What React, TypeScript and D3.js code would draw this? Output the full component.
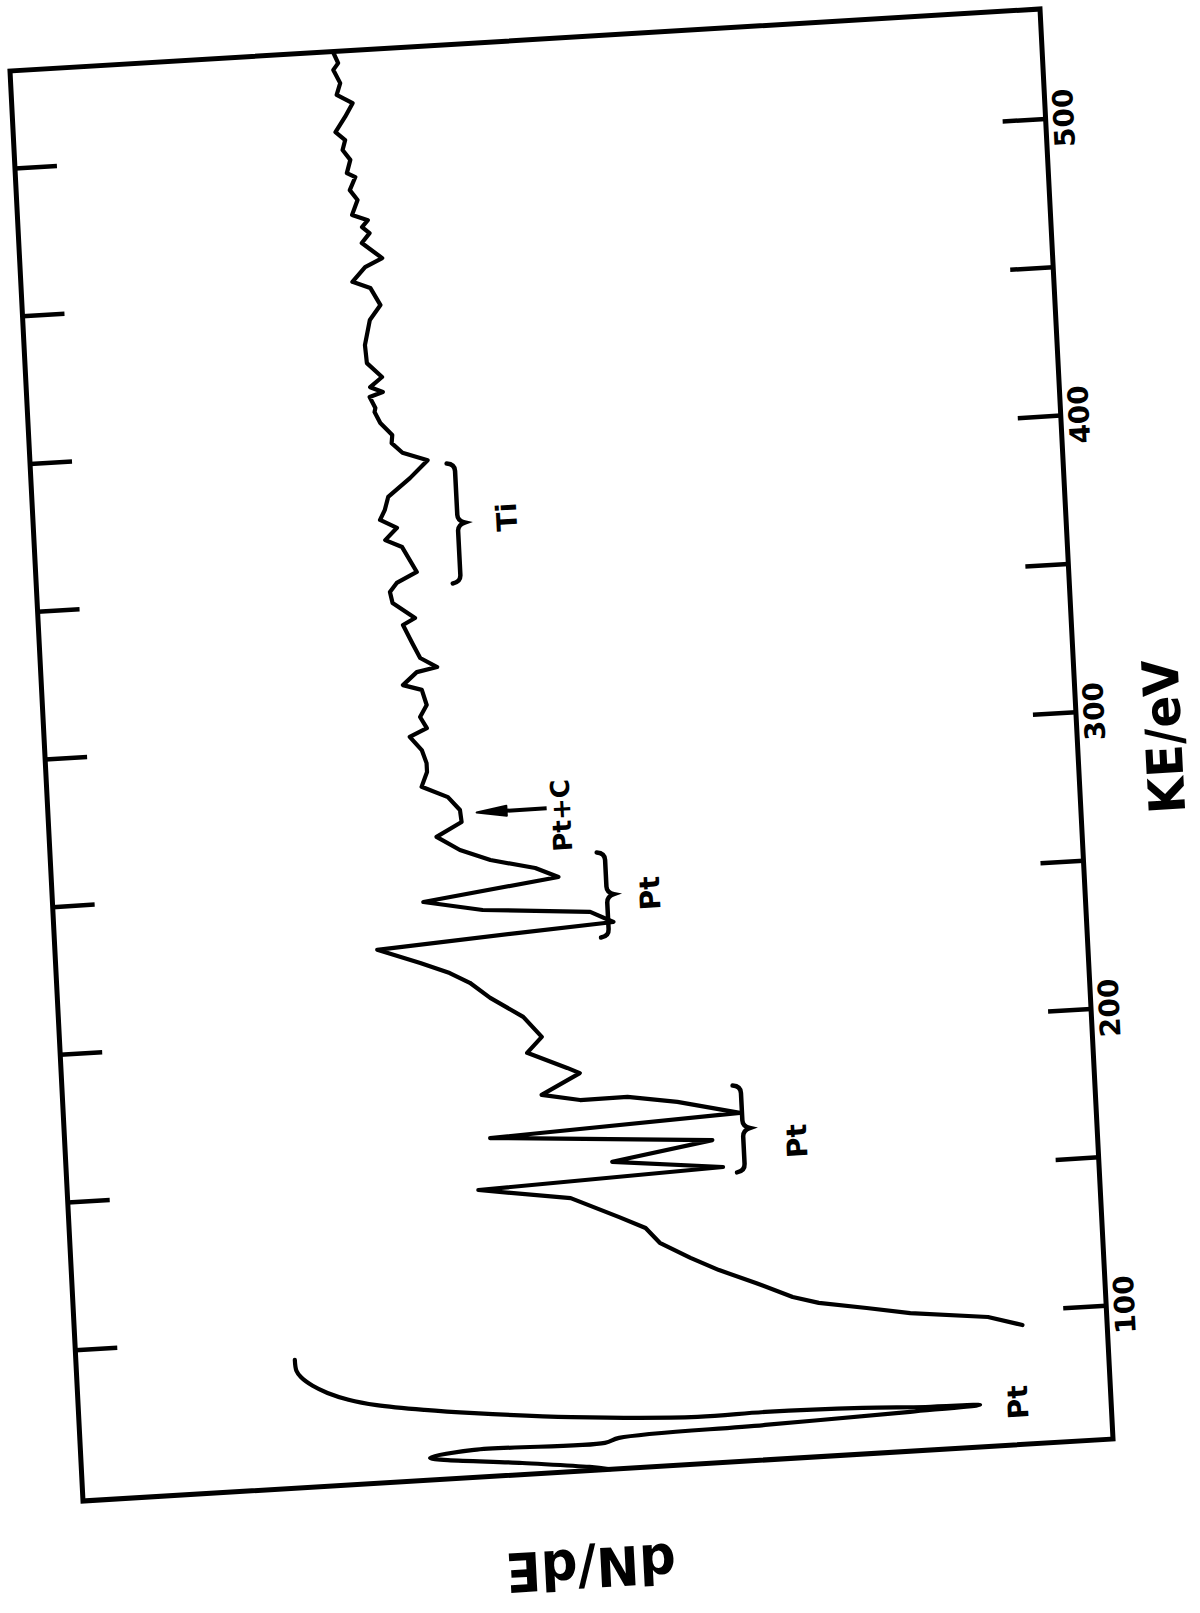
import React from 'react';
import * as d3 from 'd3';

// Auger spectrum of Pt on Ti.
// Each point: [kinetic energy / eV, dN/dE in arbitrary units 0-100]
// upper trace runs from high KE down to ~90 eV
const upperTrace = [
  [532.5, 68.6], [529.0, 68.2], [526.8, 68.7], [522.2, 68.1], [518.3, 68.5],
  [515.2, 67.0], [510.7, 67.8], [505.8, 68.8], [502.9, 67.9], [499.6, 68.2],
  [496.1, 67.5], [491.7, 67.9], [490.2, 67.1], [485.9, 67.7], [482.4, 67.0],
  [477.5, 67.6], [475.4, 66.1], [473.2, 66.7], [471.0, 66.0], [467.8, 66.8],
  [462.3, 64.9], [459.6, 66.6], [454.9, 67.9], [452.5, 66.2], [446.5, 65.3],
  [441.7, 66.4], [433.3, 67.0], [427.2, 66.9], [422.2, 65.5], [419.0, 66.7],
  [417.1, 65.5], [415.7, 66.8], [411.9, 66.3], [410.5, 66.4], [406.7, 65.9],
  [402.4, 64.8], [399.7, 64.9], [396.2, 63.9], [393.2, 61.5], [387.5, 63.3],
  [381.6, 65.5], [377.2, 65.9], [374.0, 66.4], [371.0, 64.8], [367.1, 66.0],
  [364.4, 64.4], [355.7, 63.1], [352.4, 65.1], [349.5, 65.8], [345.7, 65.6],
  [340.2, 63.5], [338.1, 64.7], [331.8, 63.9], [326.6, 63.2], [323.2, 61.6],
  [321.9, 63.6], [317.8, 65.0], [315.8, 63.2], [310.6, 62.8], [306.7, 63.5],
  [302.8, 62.9], [300.2, 64.6], [295.5, 63.5], [291.0, 63.1], [288.0, 63.1],
  [283.1, 63.7], [279.1, 61.2], [274.5, 60.1], [270.4, 60.0], [265.9, 62.5],
  [261.0, 60.3], [257.0, 57.4], [253.4, 53.1], [249.9, 50.9], [244.2, 64.1],
  [240.3, 58.4], [237.5, 48.0], [233.6, 45.8], [231.8, 55.2], [229.0, 68.8],
  [223.7, 64.7], [219.7, 61.9], [216.0, 60.0], [210.5, 58.1], [203.4, 55.0],
  [196.3, 53.3], [191.2, 54.8], [185.3, 51.0], [183.3, 49.8], [176.7, 53.6],
  [174.2, 49.9], [174.3, 45.3], [171.6, 40.5], [166.6, 34.5], [163.2, 58.8],
  [158.0, 37.3], [152.7, 47.1], [148.7, 36.4], [145.9, 60.2], [141.3, 51.3],
  [133.9, 46.7], [129.7, 44.2], [124.4, 42.9], [118.7, 40.0], [114.0, 37.3],
  [108.9, 33.8], [103.4, 30.3], [100.9, 27.8], [98.2, 23.2], [95.6, 19.0],
  [92.7, 11.5], [89.3, 8.2],
];

// lower trace (different gain), from ~92 eV down to the axis
const lowerTrace = [
  [92.3, 78.8], [88.6, 78.7], [86.4, 78.3], [83.2, 77.2], [80.5, 75.8],
  [77.8, 73.8], [75.4, 71.1], [72.8, 66.5], [70.7, 61.7], [67.4, 52.3],
  [64.9, 40.1], [65.2, 33.5], [64.6, 24.1], [63.6, 18.0], [63.2, 12.7],
  [62.3, 19.5], [60.8, 33.6], [59.4, 47.8], [58.0, 49.2], [58.3, 61.9],
  [56.5, 66.2], [52.9, 57.3], [50.2, 50.8], [49.0, 48.8],
];

const keDomain = [49, 533];
const signalDomain = [0, 100];
const keTicks = [100, 150, 200, 250, 300, 350, 400, 450, 500];
const keTickLabels = [100, 200, 300, 400, 500];

// braces under peak groups: [from KE, to KE, dN/dE level]
const braces = [
  [351.1, 391.7, 58.9],
  [228.6, 257.4, 46.3],
  [146.6, 176.0, 34.3],
];
// arrow: [KE, tail level, head level]
const arrows = [[273.3, 51.7, 58.5]];
// peak labels: [KE, level, text]
const peakLabels = [
  [372.4, 54.1, 'Ti'],
  [242.6, 42.1, 'Pt'],
  [156.0, 29.1, 'Pt'],
  [270.6, 50.3, 'Pt+C'],
  [63.4, 9.0, 'Pt'],
];

// plot box in chart units and where its corners sit on the (rotated) page
const W = 1431;
const H = 1031;
const cornerBL = [83, 1501];
const cornerTL = [10, 71];
const cornerBR = [1113, 1439];

const App = () => {
  const x = d3.scaleLinear().domain(keDomain).range([0, W]);
  // the recorder paper drifted a little: bottom axis runs slightly offset
  const xBottom = d3.scaleLinear().domain(keDomain).range([-18, W - 12]);
  const y = d3.scaleLinear().domain(signalDomain).range([H, 0]);

  const line = d3
    .line()
    .x((d) => x(d[0]))
    .y((d) => y(d[1]));
  const smoothLine = d3
    .line()
    .curve(d3.curveCatmullRom.alpha(0.5))
    .x((d) => x(d[0]))
    .y((d) => y(d[1]));

  const m = [
    (cornerTL[0] - cornerBL[0]) / W,
    (cornerTL[1] - cornerBL[1]) / W,
    (cornerBR[0] - cornerBL[0]) / H,
    (cornerBR[1] - cornerBL[1]) / H,
    cornerBL[0],
    cornerBL[1],
  ];

  const font = { fontFamily: 'DejaVu Sans', fontWeight: 'bold' };

  const bracePath = (k1, k2, level) => {
    const a = x(k1);
    const b = x(k2);
    const mid = (a + b) / 2;
    const y0 = y(level);
    const c = 8;
    const t = 7;
    return `M${a},${y0 - c} Q${a + 1},${y0} ${a + 8},${y0} L${mid - 8},${y0} Q${mid - 2},${y0} ${mid},${y0 + t} Q${mid + 2},${y0} ${mid + 8},${y0} L${b - 8},${y0} Q${b - 1},${y0} ${b},${y0 - c}`;
  };

  return (
    <svg
      width={1200}
      height={1613}
      style={{ position: 'absolute', left: 0, top: 0, background: '#fff' }}
    >
      <rect width={1200} height={1613} fill="#fff" />
      <g transform={`matrix(${m.join(' ')})`}>
        <rect
          x={0}
          y={0}
          width={W}
          height={H}
          fill="none"
          stroke="#000"
          strokeWidth={5}
        />
        {keTicks.map((t) => (
          <g key={t}>
            <line x1={x(t)} x2={x(t)} y1={0} y2={42} stroke="#000" strokeWidth={4.5} />
            <line
              x1={xBottom(t)}
              x2={xBottom(t)}
              y1={H}
              y2={H - 43}
              stroke="#000"
              strokeWidth={4.5}
            />
          </g>
        ))}
        {keTickLabels.map((t) => (
          <text key={t} x={xBottom(t)} y={H + 28} textAnchor="middle" fontSize={28} {...font}>
            {t}
          </text>
        ))}
        <text
          x={x(285)}
          y={H + 104}
          textAnchor="middle"
          fontSize={50}
          textLength={154}
          lengthAdjust="spacingAndGlyphs"
          {...font}
        >
          KE/eV
        </text>
        <text
          transform={`translate(-78,${H / 2 - 12}) rotate(-90)`}
          textAnchor="middle"
          fontSize={54}
          textLength={170}
          lengthAdjust="spacingAndGlyphs"
          {...font}
        >
          dN/dE
        </text>

        <path
          d={line(upperTrace)}
          fill="none"
          stroke="#000"
          strokeWidth={4.2}
          strokeLinejoin="round"
          strokeLinecap="round"
        />
        <path
          d={smoothLine(lowerTrace)}
          fill="none"
          stroke="#000"
          strokeWidth={4.2}
          strokeLinejoin="round"
          strokeLinecap="round"
        />

        {braces.map(([k1, k2, lv], i) => (
          <path
            key={i}
            d={bracePath(k1, k2, lv)}
            fill="none"
            stroke="#000"
            strokeWidth={4.5}
            strokeLinecap="round"
          />
        ))}

        {arrows.map(([k, tail, head], i) => (
          <g key={i}>
            <line x1={x(k)} x2={x(k)} y1={y(tail)} y2={y(head) + 20} stroke="#000" strokeWidth={4} />
            <path
              d={`M${x(k)},${y(head)} L${x(k) - 5},${y(head) + 30} L${x(k) + 5},${y(head) + 30} Z`}
              fill="#000"
              stroke="#000"
              strokeWidth={2}
              strokeLinejoin="round"
            />
          </g>
        ))}

        {peakLabels.map(([k, lv, lab], i) => (
          <text
            key={i}
            x={x(k)}
            y={y(lv)}
            textAnchor="middle"
            dominantBaseline="central"
            fontSize={lab.length > 2 ? 26 : 28}
            {...font}
          >
            {lab}
          </text>
        ))}
      </g>
    </svg>
  );
};

export default App;
